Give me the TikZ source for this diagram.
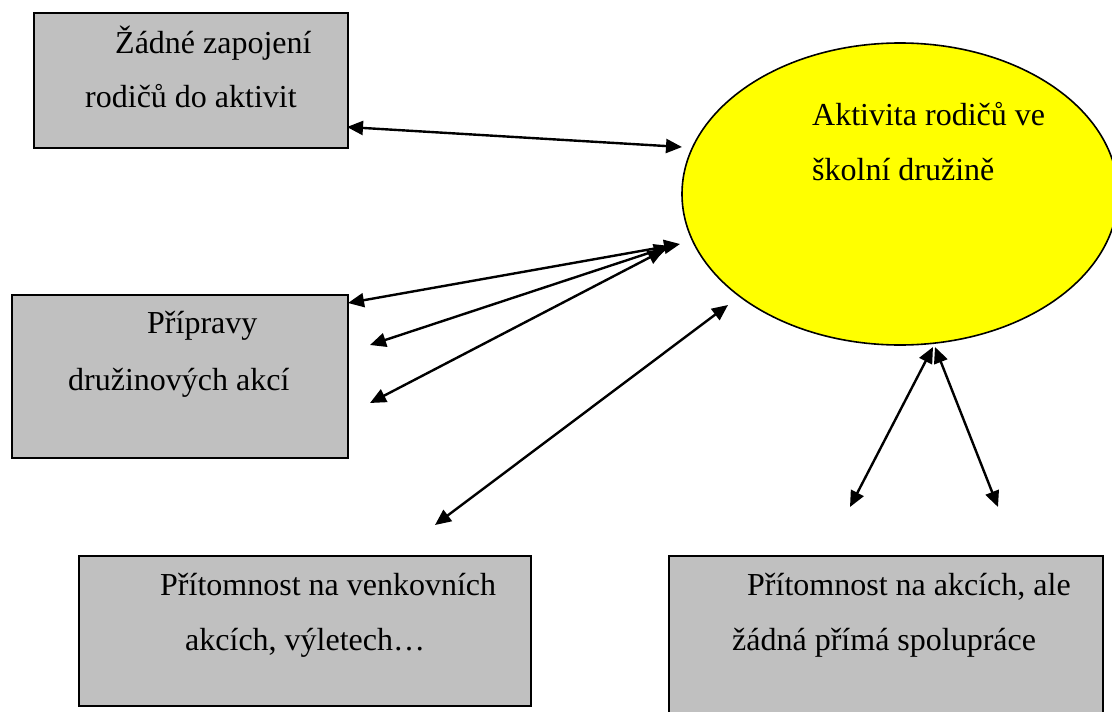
\documentclass[tikz,border=0pt]{standalone}
\usepackage{fontspec}
\setmainfont{Liberation Serif}
\usetikzlibrary{arrows.meta,shapes.geometric}
\definecolor{boxgray}{HTML}{C0C0C0}
\definecolor{sunyellow}{HTML}{FFFF00}
\begin{document}
\begin{tikzpicture}[x=1pt,y=-1pt,
  box/.style={draw=black, line width=1.8pt, fill=boxgray, anchor=north west, inner sep=0pt},
  txt/.style={anchor=base west, inner sep=0pt, font=\fontsize{32}{38}\selectfont},
  link/.style={line width=2.4pt, {Triangle[length=16pt,width=14pt]}-{Triangle[length=16pt,width=14pt]}}]
\clip (0,0) rectangle (1112,712);
\fill[white] (0,0) rectangle (1112,712);

% central ellipse
\node[ellipse, draw=black, line width=1.6pt, fill=sunyellow, inner sep=0pt,
      minimum width=436pt, minimum height=302pt] (act) at (900,194) {};
\node[txt] (actA) at (812,125) {Aktivita rodičů ve};
\node[txt] (actB) at (812,180) {školní družině};

% boxes
\node[box, minimum width=314pt, minimum height=135pt] (none) at (33,12) {};
\node[txt] (noneA) at (115,53) {Žádné zapojení};
\node[txt] (noneB) at (85,107) {rodičů do aktivit};

\node[box, minimum width=336pt, minimum height=163pt] (prep) at (11,294) {};
\node[txt] (prepA) at (147,333) {Přípravy};
\node[txt] (prepB) at (68,390) {družinových akcí};

\node[box, minimum width=452pt, minimum height=150pt] (out) at (78,555) {};
\node[txt] (outA) at (160,595) {Přítomnost na venkovních};
\node[txt] (outB) at (185,650) {akcích, výletech…};

\node[box, minimum width=434pt, minimum height=180pt] (pres) at (668,555) {};
\node[txt] (presA) at (747,595) {Přítomnost na akcích, ale};
\node[txt] (presB) at (732,650) {žádná přímá spolupráce};

% connector end points
\coordinate (n1) at (347,127);  \coordinate (e1) at (682,147);
\coordinate (p1) at (348,303);  \coordinate (e2) at (680,244);
\coordinate (p2) at (370,345);  \coordinate (e3) at (670,246);
\coordinate (p3) at (370,403);  \coordinate (e4) at (664,250);
\coordinate (o1) at (435,525);  \coordinate (e5) at (728,305);
\coordinate (e6) at (933,347);  \coordinate (s1) at (850,507);
\coordinate (e7) at (935,347);  \coordinate (s2) at (998,507);

% double-headed connectors
\draw[link] (n1) -- (e1);
\draw[link] (p1) -- (e2);
\draw[link] (p2) -- (e3);
\draw[link] (p3) -- (e4);
\draw[link] (o1) -- (e5);
\draw[link] (e6) -- (s1);
\draw[link] (e7) -- (s2);
\end{tikzpicture}
\end{document}
